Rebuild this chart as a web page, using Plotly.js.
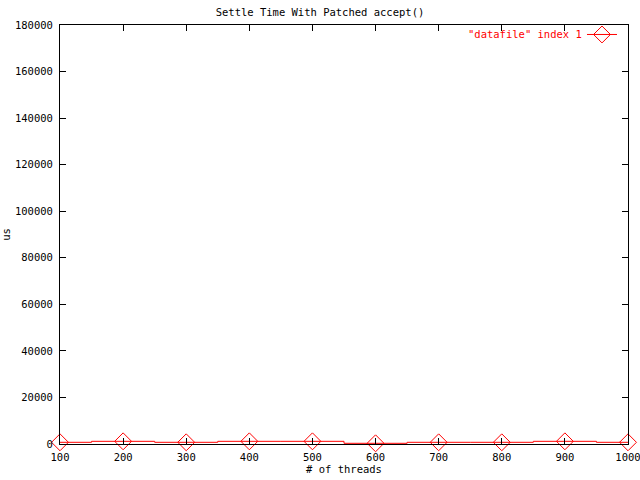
<!DOCTYPE html>
<html><head><meta charset="utf-8">
<script src="https://cdn.plot.ly/plotly-3.0.1.min.js"></script>
<style>body{margin:0;background:#fff}#plot{width:640px;height:480px}</style>
</head><body><div id="plot"></div>
<script>
const threads = [100, 200, 300, 400, 500, 600, 700, 800, 900, 1000];
const settleUs = [730, 1150, 730, 1150, 1150, 300, 730, 730, 1150, 730];
const seriesName = '"datafile" index 1';
const xTicks = [100, 200, 300, 400, 500, 600, 700, 800, 900, 1000];
const yTicks = [0, 20000, 40000, 60000, 80000, 100000, 120000, 140000, 160000, 180000];

const font = {family: 'DejaVu Sans Mono, monospace', size: 10.5, color: '#000'};
const trace = {
  x: threads, y: settleUs, type: 'scatter', mode: 'lines+markers',
  name: ' ',
  line: {color: '#ff0000', width: 1, shape: 'hvh'},
  marker: {symbol: 'diamond-open', size: 13, color: '#ff0000', line: {width: 1, color: '#ff0000'}},
  cliponaxis: false
};
const axisCommon = {
  showgrid: false, zeroline: false, showline: true, mirror: 'ticks',
  linecolor: '#000', linewidth: 1, ticks: 'inside', ticklen: 6, tickcolor: '#000',
  tickfont: font, ticklabeloverflow: 'allow', automargin: false
};
const layout = {
  width: 640, height: 480,
  margin: {l: 60, r: 12, t: 25, b: 36, autoexpand: false},
  paper_bgcolor: '#fff', plot_bgcolor: '#fff',
  font: font,
  title: {text: 'Settle Time With Patched accept()', font: font, x: 0.5, xanchor: 'center', y: 0.975, yanchor: 'middle', automargin: false},
  xaxis: Object.assign({}, axisCommon, {
    range: [100, 1000], tickvals: xTicks, ticktext: xTicks.map(String), ticklabelstandoff: 3,
    title: {text: '# of threads', font: font, standoff: 0}
  }),
  yaxis: Object.assign({}, axisCommon, {
    range: [0, 180000], tickvals: yTicks, ticktext: yTicks.map(String), ticklabelstandoff: 4,
    title: {text: 'us', font: font, standoff: 10}
  }),
  showlegend: true,
  legend: {x: 0.919, xanchor: 'left', y: 1.012, yanchor: 'top', bgcolor: 'rgba(0,0,0,0)',
    font: {family: font.family, size: 10.5, color: '#ff0000'}, itemwidth: 30},
  annotations: [{
    xref: 'paper', yref: 'paper', x: 0.922, y: 0.978, xanchor: 'right', yanchor: 'middle',
    text: seriesName, showarrow: false, font: {family: font.family, size: 10.5, color: '#ff0000'}
  }]
};
Plotly.newPlot('plot', [trace], layout, {displayModeBar: false, staticPlot: true});
</script></body></html>
